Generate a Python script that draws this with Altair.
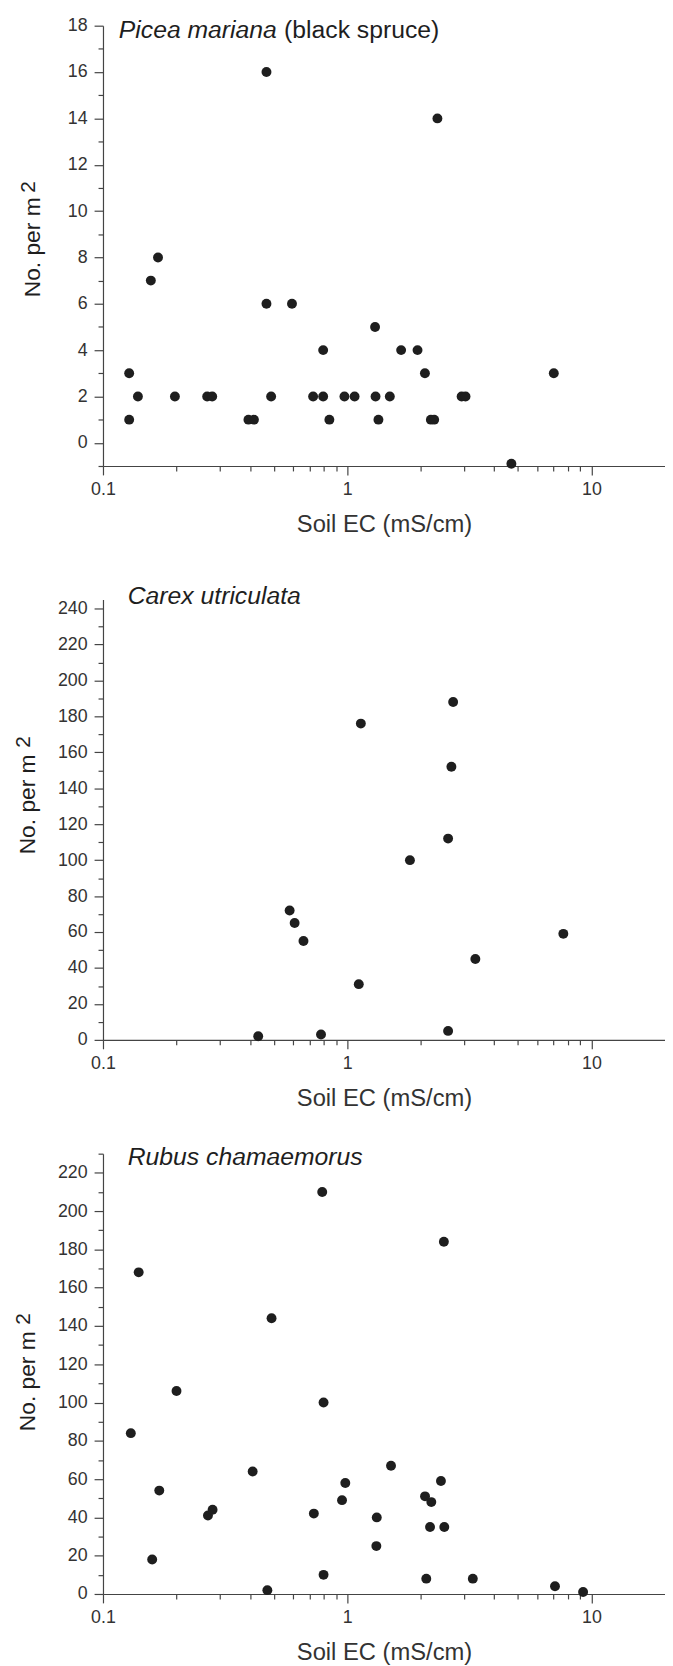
import altair as alt
import pandas as pd

# ---------------- data ----------------
# Picea mariana (black spruce)
picea_ec = [0.128, 0.128, 0.139, 0.157, 0.168, 0.197, 0.267, 0.280, 0.394, 0.415,
            0.467, 0.467, 0.488, 0.594, 0.725, 0.797, 0.797, 0.845, 0.974, 1.072,
            1.30, 1.306, 1.342, 1.494, 1.662, 1.94, 2.08, 2.20, 2.27, 2.34,
            2.94, 3.05, 4.70, 7.01]
picea_n = [3, 1, 2, 7, 8, 2, 2, 2, 1, 1,
           16, 6, 2, 6, 2, 4, 2, 1, 2, 2,
           5, 2, 1, 2, 4, 4, 3, 1, 1, 14,
           2, 2, -0.9, 3]

# Carex utriculata
carex_ec = [0.432, 0.581, 0.609, 0.662, 0.781, 1.115, 1.137, 1.806, 2.588, 2.588,
            2.67, 2.714, 3.346, 7.67]
carex_n = [2, 72, 65, 55, 3, 31, 176, 100, 112, 5, 152, 188, 45, 59]

# Rubus chamaemorus
rubus_ec = [0.130, 0.140, 0.159, 0.170, 0.200, 0.269, 0.281, 0.410, 0.471, 0.490,
            0.730, 0.790, 0.800, 0.800, 0.952, 0.982, 1.316, 1.321, 1.511, 2.082,
            2.107, 2.183, 2.209, 2.419, 2.487, 2.497, 3.267, 7.09, 9.24]
rubus_n = [84, 168, 18, 54, 106, 41, 44, 64, 2, 144,
           42, 210, 100, 10, 49, 58, 25, 40, 67, 51,
           8, 35, 48, 59, 184, 35, 8, 4, 1]

# axis ticks
x_ticks = [0.1, 0.2, 0.3, 0.4, 0.5, 0.6, 0.7, 0.8, 0.9,
           1, 2, 3, 4, 5, 6, 7, 8, 9, 10]
x_major = [0.1, 1, 10]
picea_yticks = list(range(-1, 19))
carex_yticks = list(range(0, 250, 10))
rubus_yticks = list(range(0, 231, 10))

FONT = "Liberation Sans"
INK = "#1e1e1e"
AXC = "#444444"
W, H = 568, 445

major_x_test = "indexof([" + ", ".join(str(v) for v in x_major) + "], datum.value) >= 0"


def panel(ec, n, ydomain, yticks, ystep, title_parts, title_xy, ytitle_pos):
    df = pd.DataFrame({"ec": ec, "n": n})
    ytest = f"datum.value % {ystep} === 0 && datum.value >= 0"
    xaxis = alt.Axis(
        values=x_ticks,
        labelExpr=f"{major_x_test} ? format(datum.value, '~g') : ''",
        tickSize={"condition": {"test": major_x_test, "value": 9}, "value": 5},
        labelPadding=5.5,
        labelOverlap=False,
        labelFlush=False,
        title="Soil EC (mS/cm)",
        titleFontSize=24,
        titleY=66.5,
        titleBaseline="alphabetic",
        grid=False,
    )
    yaxis = alt.Axis(
        values=yticks,
        labelExpr=f"{ytest} ? datum.label : ''",
        tickSize={"condition": {"test": ytest, "value": 9}, "value": 5},
        labelPadding=7,
        labelOverlap=False,
        labelFlush=False,
        title=None,
        grid=False,
    )
    pts = alt.Chart(df).mark_circle(size=100, color=INK, opacity=1).encode(
        x=alt.X("ec:Q", scale=alt.Scale(type="log", domain=[0.1, 20], nice=False), axis=xaxis),
        y=alt.Y("n:Q", scale=alt.Scale(domain=ydomain, nice=False, zero=False), axis=yaxis),
    )
    one = pd.DataFrame({"k": [0]})
    layers = [pts]
    tx, ty = title_xy
    for i, (txt, style) in enumerate(title_parts):
        layers.append(
            alt.Chart(one).mark_text(
                text=txt, font=FONT, fontSize=25, fontStyle=style,
                align="left", baseline="alphabetic", color=INK,
            ).encode(x=alt.value(tx[i]), y=alt.value(ty))
        )
    (mx, my), (sx, sy) = ytitle_pos
    layers.append(
        alt.Chart(one).mark_text(
            text="No. per m", font=FONT, fontSize=23, angle=270,
            align="center", baseline="middle", color=INK,
        ).encode(x=alt.value(mx), y=alt.value(my))
    )
    layers.append(
        alt.Chart(one).mark_text(
            text="2", font=FONT, fontSize=21, angle=270,
            align="center", baseline="middle", color=INK,
        ).encode(x=alt.value(sx), y=alt.value(sy))
    )
    return alt.layer(*layers).properties(width=W, height=H)


p1 = panel(picea_ec, picea_n, [-1, 18], picea_yticks, 2,
           [("Picea mariana", "italic"), ("(black spruce)", "normal")],
           ([16, 183], 12.4), ((-71, 224), (-75, 163)))
p2 = panel(carex_ec, carex_n, [0, 245], carex_yticks, 20,
           [("Carex utriculata", "italic")],
           ([25], 4.3), ((-76, 207), (-80, 144)))
p3 = panel(rubus_ec, rubus_n, [0, 230], rubus_yticks, 20,
           [("Rubus chamaemorus", "italic")],
           ([25], 11), ((-76, 230), (-80, 167)))

chart = alt.vconcat(p1, alt.vconcat(p2, p3, spacing=34), spacing=47).properties(
    padding={"left": 5, "top": 0, "right": 0, "bottom": 0}
).configure_view(
    stroke=None
).configure_axis(
    domainColor=AXC, tickColor=AXC, domainWidth=1.2, tickWidth=1.2,
    labelColor="#333333", labelFont=FONT, labelFontSize=18,
    titleFont=FONT, titleFontWeight="normal", titleColor="#333333",
)

chart.save("out.html", embed_options={"renderer": "svg", "actions": False})
